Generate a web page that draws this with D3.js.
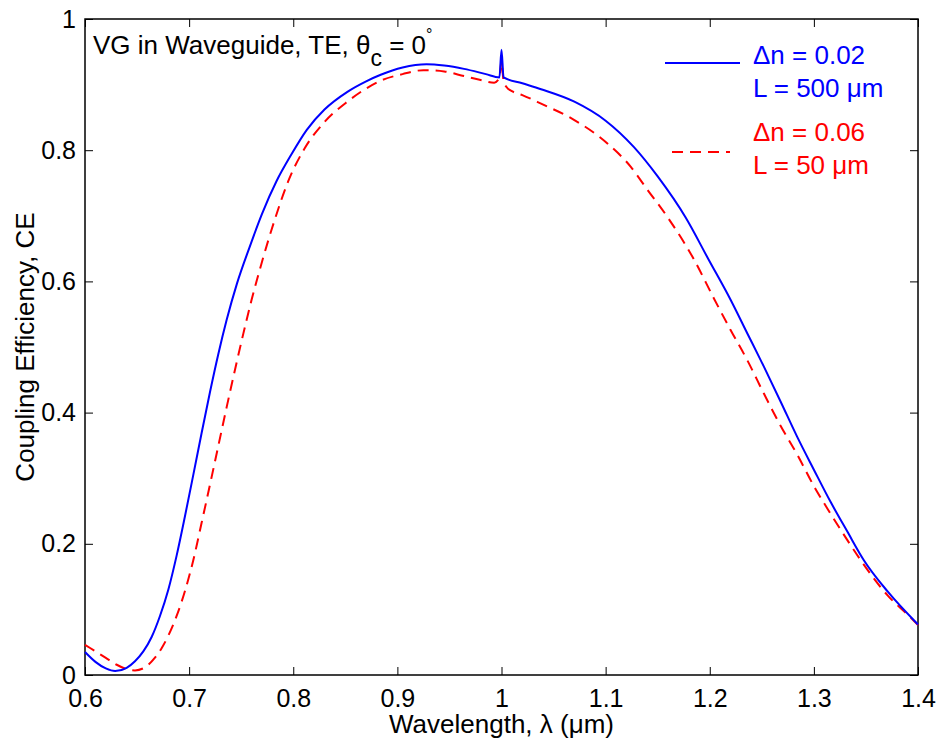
<!DOCTYPE html>
<html>
<head>
<meta charset="utf-8">
<script src="https://cdn.jsdelivr.net/npm/d3@7"></script>
<style>
  body { margin: 0; background: #fff; }
  text { font-family: "Liberation Sans", Arial, sans-serif; }
</style>
</head>
<body>
<div id="chart"></div>
<script>
// series: dn = 0.02, L = 500 um (solid blue)
const blueLambda = [0.600, 0.610, 0.620, 0.629, 0.640, 0.648, 0.656, 0.664, 0.672, 0.680, 0.688, 0.696,
  0.704, 0.712, 0.720, 0.728, 0.736, 0.746, 0.758, 0.770, 0.784, 0.798, 0.813, 0.830, 0.852, 0.870,
  0.884, 0.905, 0.928, 0.945, 0.964, 0.985, 0.998, 1.000, 1.002, 1.020, 1.038, 1.070, 1.100, 1.127,
  1.150, 1.177, 1.199, 1.220, 1.236, 1.252, 1.268, 1.284, 1.300, 1.316, 1.332, 1.348, 1.371, 1.400];
const blueCE = [0.035, 0.020, 0.010, 0.006, 0.011, 0.021, 0.036, 0.058, 0.090, 0.130, 0.182, 0.242,
  0.305, 0.369, 0.431, 0.489, 0.541, 0.597, 0.652, 0.703, 0.753, 0.793, 0.831, 0.862, 0.889, 0.905,
  0.915, 0.926, 0.931, 0.929, 0.924, 0.916, 0.911, 0.953, 0.911, 0.902, 0.893, 0.874, 0.845, 0.805,
  0.760, 0.697, 0.633, 0.572, 0.521, 0.470, 0.417, 0.363, 0.313, 0.264, 0.219, 0.175, 0.127, 0.077];

// series: dn = 0.06, L = 50 um (dashed red)
const redLambda = [0.600, 0.610, 0.620, 0.630, 0.640, 0.648, 0.657, 0.667, 0.674, 0.680, 0.688, 0.696,
  0.704, 0.712, 0.720, 0.728, 0.736, 0.744, 0.752, 0.760, 0.770, 0.782, 0.795, 0.811, 0.830, 0.852,
  0.870, 0.884, 0.905, 0.925, 0.945, 0.964, 0.980, 0.993, 0.998, 1.000, 1.002, 1.005, 1.010, 1.020,
  1.038, 1.070, 1.102, 1.124, 1.140, 1.159, 1.185, 1.204, 1.220, 1.236, 1.252, 1.268, 1.284, 1.300,
  1.316, 1.332, 1.345, 1.371, 1.392, 1.400];
const redCE = [0.046, 0.036, 0.026, 0.016, 0.009, 0.007, 0.011, 0.026, 0.042, 0.060, 0.090, 0.128,
  0.175, 0.232, 0.290, 0.349, 0.408, 0.465, 0.520, 0.572, 0.630, 0.693, 0.752, 0.803, 0.843, 0.874,
  0.894, 0.906, 0.916, 0.922, 0.920, 0.913, 0.907, 0.903, 0.910, 0.935, 0.905, 0.896, 0.890, 0.884,
  0.871, 0.846, 0.810, 0.775, 0.740, 0.699, 0.633, 0.574, 0.526, 0.480, 0.429, 0.380, 0.336, 0.288,
  0.246, 0.206, 0.175, 0.121, 0.089, 0.076];

const xTicks = [0.6, 0.7, 0.8, 0.9, 1.0, 1.1, 1.2, 1.3, 1.4];
const xTickLabels = ['0.6', '0.7', '0.8', '0.9', '1', '1.1', '1.2', '1.3', '1.4'];
const yTicks = [0, 0.2, 0.4, 0.6, 0.8, 1];
const yTickLabels = ['0', '0.2', '0.4', '0.6', '0.8', '1'];

const width = 943;
const height = 742;
const margin = { top: 19, right: 25, bottom: 67, left: 85 };
const fontSize = 26;
const tickFontSize = 25;

const svg = d3.select('#chart')
  .append('svg')
  .attr('width', width)
  .attr('height', height)
  .attr('viewBox', [0, 0, width, height]);

svg.append('rect').attr('width', width).attr('height', height).attr('fill', '#fff');

const x = d3.scaleLinear()
  .domain([0.6, 1.4])
  .range([margin.left, width - margin.right]);

const y = d3.scaleLinear()
  .domain([0, 1])
  .range([height - margin.bottom, margin.top]);

const tickLen = 8;

// axes on all four sides, ticks pointing inward
const axisStyle = (g) => g
  .call((s) => s.selectAll('.domain').remove())
  .call((s) => s.selectAll('.tick line').attr('stroke', '#000').attr('stroke-width', 1))
  .call((s) => s.selectAll('.tick text').attr('fill', '#000').attr('font-size', tickFontSize));

svg.append('g')
  .attr('transform', `translate(0,${y(0)})`)
  .call(d3.axisBottom(x).tickValues(xTicks).tickSizeInner(-tickLen).tickSizeOuter(0)
    .tickPadding(14).tickFormat((d, i) => xTickLabels[i]))
  .call(axisStyle);

svg.append('g')
  .attr('transform', `translate(0,${y(1)})`)
  .call(d3.axisTop(x).tickValues(xTicks).tickSizeInner(-tickLen).tickSizeOuter(0).tickFormat(''))
  .call(axisStyle);

svg.append('g')
  .attr('transform', `translate(${x(0.6)},0)`)
  .call(d3.axisLeft(y).tickValues(yTicks).tickSizeInner(-tickLen).tickSizeOuter(0)
    .tickPadding(9).tickFormat((d, i) => yTickLabels[i]))
  .call(axisStyle);

svg.append('g')
  .attr('transform', `translate(${x(1.4)},0)`)
  .call(d3.axisRight(y).tickValues(yTicks).tickSizeInner(-tickLen).tickSizeOuter(0).tickFormat(''))
  .call(axisStyle);

// frame
svg.append('rect')
  .attr('x', x(0.6))
  .attr('y', y(1))
  .attr('width', x(1.4) - x(0.6))
  .attr('height', y(0) - y(1))
  .attr('fill', 'none')
  .attr('stroke', '#000')
  .attr('stroke-width', 1.5);

const line = d3.line()
  .x((d) => x(d[0]))
  .y((d) => y(d[1]))
  .curve(d3.curveMonotoneX);

svg.append('path')
  .datum(d3.zip(redLambda, redCE))
  .attr('d', line)
  .attr('fill', 'none')
  .attr('stroke', '#ff0000')
  .attr('stroke-width', 2)
  .attr('stroke-dasharray', '11 7');

svg.append('path')
  .datum(d3.zip(blueLambda, blueCE))
  .attr('d', line)
  .attr('fill', 'none')
  .attr('stroke', '#0000ff')
  .attr('stroke-width', 2);

// axis labels
svg.append('text')
  .attr('x', (x(0.6) + x(1.4)) / 2)
  .attr('y', 733)
  .attr('text-anchor', 'middle')
  .attr('font-size', fontSize)
  .text('Wavelength, λ (μm)');

svg.append('text')
  .attr('transform', `translate(34,${(y(0) + y(1)) / 2}) rotate(-90)`)
  .attr('text-anchor', 'middle')
  .attr('font-size', fontSize)
  .text('Coupling Efficiency, CE');

// annotation
const note = svg.append('text')
  .attr('x', 93)
  .attr('y', 54)
  .attr('font-size', fontSize);
note.append('tspan').text('VG in Waveguide, TE, θ');
note.append('tspan').attr('dy', 12).attr('font-size', 23).text('c');
note.append('tspan').attr('dy', -12).text(' = 0');
note.append('tspan').attr('dy', -14).attr('font-size', 16).text('°');

// legend
const legend = [
  { color: '#0000ff', dash: null, y: 63, lines: ['Δn = 0.02', 'L = 500 μm'], ty: 64 },
  { color: '#ff0000', dash: '11 7', y: 152, lines: ['Δn = 0.06', 'L = 50 μm'], ty: 141 }
];

legend.forEach((item) => {
  svg.append('line')
    .attr('x1', item.dash ? 672 : 665)
    .attr('x2', item.dash ? 730 : 740)
    .attr('y1', item.y)
    .attr('y2', item.y)
    .attr('stroke', item.color)
    .attr('stroke-width', 2)
    .attr('stroke-dasharray', item.dash);
  svg.append('text')
    .attr('font-size', fontSize)
    .attr('fill', item.color)
    .selectAll('tspan')
    .data(item.lines)
    .join('tspan')
    .attr('x', 753)
    .attr('y', (d, i) => item.ty + i * 33)
    .text((d) => d);
});
</script>
</body>
</html>
